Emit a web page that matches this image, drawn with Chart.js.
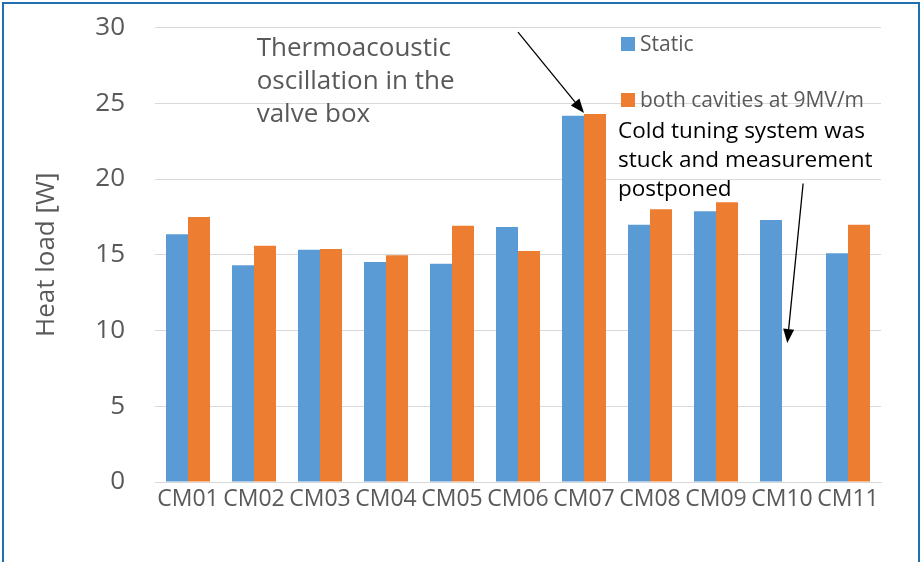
<!DOCTYPE html>
<html>
<head>
<meta charset="utf-8">
<script src="https://cdn.jsdelivr.net/npm/chart.js@4/dist/chart.umd.min.js"></script>
<style>
  html, body { margin: 0; padding: 0; background: #ffffff; }
  #wrap { position: relative; width: 922px; height: 562px; overflow: hidden; }
  #frame { position: absolute; left: 2px; top: 2px; width: 914px; height: 640px;
           border: 2px solid #1f70b3; pointer-events: none; }
  canvas { display: block; }
</style>
</head>
<body>
<div id="wrap">
  <canvas id="c" width="922" height="562"></canvas>
  <div id="frame"></div>
</div>
<script>
// Cryomodule heat loads
const categories = ['CM01', 'CM02', 'CM03', 'CM04', 'CM05', 'CM06', 'CM07', 'CM08', 'CM09', 'CM10', 'CM11'];
const staticLoad = [16.35, 14.3, 15.33, 14.52, 14.41, 16.83, 24.18, 16.98, 17.87, 17.29, 15.1];
const rfLoad = [17.49, 15.6, 15.38, 14.96, 16.92, 15.25, 24.29, 18.0, 18.46, null, 16.98];
const seriesNames = ['Static', 'both cavities at 9MV/m'];
const seriesColors = ['#5b9bd5', '#ed7d31'];
const yMin = 0, yMax = 30, yStep = 5;

// Callouts: text anchored at (category index, value), arrows from/to (index, value)
const notes = [
  { lines: ['Thermoacoustic', 'oscillation in the', 'valve box'], x: 1.04, y: 28.1,
    color: '#595959', size: 26, lineGap: 33 },
  { lines: ['Cold tuning system was', 'stuck and measurement', 'postponed'], x: 6.515, y: 22.7,
    color: '#000000', size: 22.5, lineGap: 29 }
];
const arrows = [
  { from: [5.0, 29.7], to: [6.0, 24.36] },
  { from: [9.32, 19.7], to: [9.08, 9.17] }
];

const FONT = '"Open Sans", "Noto Sans", sans-serif';

const overlay = {
  id: 'overlay',
  afterDraw(chart) {
    const ctx = chart.ctx;
    const xs = chart.scales.x, ys = chart.scales.y;
    ctx.save();
    // legend
    seriesNames.forEach((name, i) => {
      const top = 37 + i * 56;
      ctx.fillStyle = seriesColors[i];
      ctx.fillRect(621, top, 14, 14);
      ctx.fillStyle = '#595959';
      ctx.font = '21px ' + FONT;
      ctx.textBaseline = 'alphabetic';
      ctx.textAlign = 'left';
      ctx.fillText(name, 640, top + 14);
    });
    // text callouts
    notes.forEach(n => {
      const px = xs.getPixelForValue(n.x);
      const py = ys.getPixelForValue(n.y);
      ctx.fillStyle = n.color;
      ctx.font = n.size + 'px ' + FONT;
      ctx.textAlign = 'left';
      ctx.textBaseline = 'alphabetic';
      n.lines.forEach((t, k) => ctx.fillText(t, px, py + k * n.lineGap));
    });
    // arrows
    arrows.forEach(a => {
      const x1 = xs.getPixelForValue(a.from[0]), y1 = ys.getPixelForValue(a.from[1]);
      const x2 = xs.getPixelForValue(a.to[0]), y2 = ys.getPixelForValue(a.to[1]);
      const ang = Math.atan2(y2 - y1, x2 - x1);
      const len = 14, half = 5.5;
      const bx = x2 - len * Math.cos(ang), by = y2 - len * Math.sin(ang);
      ctx.strokeStyle = '#000000';
      ctx.lineWidth = 1.3;
      ctx.beginPath();
      ctx.moveTo(x1, y1);
      ctx.lineTo(bx, by);
      ctx.stroke();
      ctx.fillStyle = '#000000';
      ctx.beginPath();
      ctx.moveTo(x2, y2);
      ctx.lineTo(bx + half * Math.sin(ang), by - half * Math.cos(ang));
      ctx.lineTo(bx - half * Math.sin(ang), by + half * Math.cos(ang));
      ctx.closePath();
      ctx.fill();
    });
    ctx.restore();
  }
};

new Chart(document.getElementById('c'), {
  type: 'bar',
  data: {
    labels: categories,
    datasets: [
      { label: seriesNames[0], data: staticLoad, backgroundColor: seriesColors[0] },
      { label: seriesNames[1], data: rfLoad, backgroundColor: seriesColors[1] }
    ]
  },
  options: {
    responsive: false,
    animation: false,
    events: [],
    layout: { padding: { top: 27.5, right: 41, left: 0, bottom: 0 } },
    datasets: { bar: { categoryPercentage: 0.667, barPercentage: 1.0 } },
    plugins: { legend: { display: false }, tooltip: { enabled: false } },
    scales: {
      x: {
        grid: { display: false, drawTicks: false },
        border: { display: true, color: '#d9d9d9', width: 1 },
        ticks: { color: '#595959', font: { family: FONT, size: 23 }, padding: 4, maxRotation: 0, autoSkip: false },
        afterFit(s) { s.height = 80; }
      },
      y: {
        min: yMin, max: yMax,
        grid: { color: '#d9d9d9', lineWidth: 1, drawTicks: false },
        border: { display: false },
        ticks: { stepSize: yStep, color: '#595959', font: { family: FONT, size: 26 }, padding: 30 },
        title: { display: true, text: 'Heat load [W]', color: '#595959',
                 font: { family: FONT, size: 26 }, padding: { top: 31, bottom: 0 } },
        afterFit(s) { s.width = 155; s.paddingTop = 0; s.paddingBottom = 0; }
      }
    }
  },
  plugins: [overlay]
});
</script>
</body>
</html>
